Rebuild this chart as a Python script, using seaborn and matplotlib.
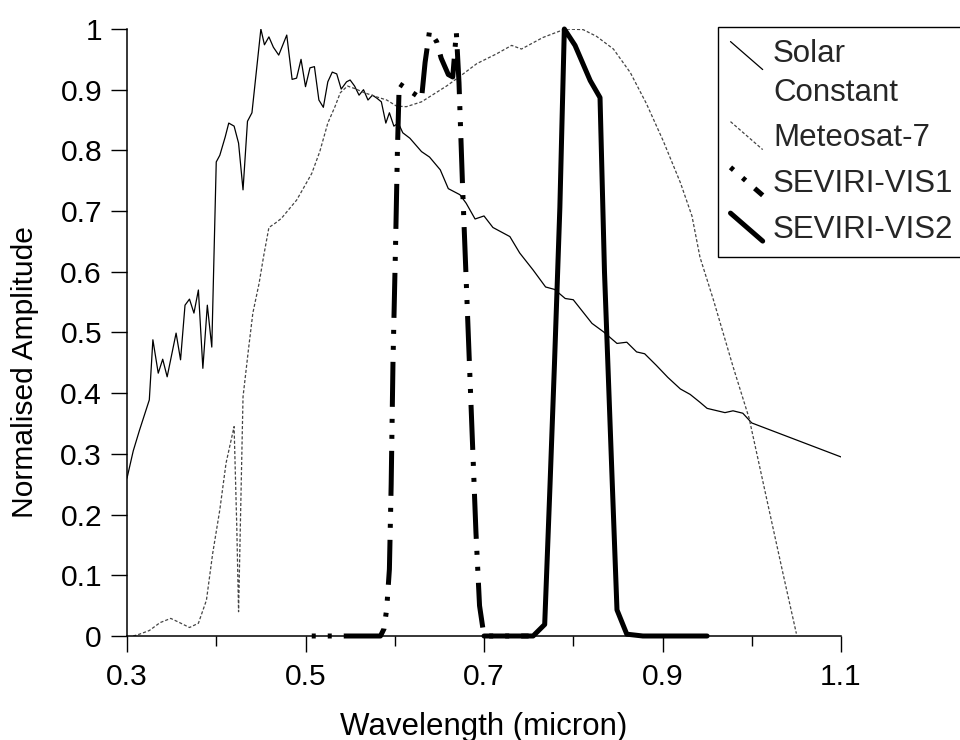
import matplotlib
matplotlib.use("Agg")
import matplotlib.pyplot as plt
import seaborn as sns
from matplotlib.lines import Line2D
from matplotlib.ticker import FixedLocator, MultipleLocator, FuncFormatter

# values
solar_wl = [0.300, 0.307, 0.314, 0.325, 0.329, 0.335, 0.340, 0.345, 0.355, 0.360, 0.365,
            0.370, 0.375, 0.380, 0.385, 0.390, 0.395, 0.400, 0.404, 0.410, 0.414, 0.420,
            0.425, 0.430, 0.435, 0.440, 0.450, 0.454, 0.459, 0.464, 0.470, 0.479, 0.485,
            0.490, 0.495, 0.500, 0.505, 0.510, 0.515, 0.520, 0.525, 0.530, 0.535, 0.540,
            0.546, 0.550, 0.555, 0.560, 0.565, 0.570, 0.575, 0.580, 0.585, 0.590, 0.594,
            0.599, 0.604, 0.609, 0.617, 0.630, 0.639, 0.651, 0.660, 0.673, 0.680, 0.690,
            0.700, 0.710, 0.729, 0.740, 0.755, 0.769, 0.779, 0.791, 0.800, 0.821, 0.834,
            0.849, 0.860, 0.871, 0.880, 0.893, 0.906, 0.920, 0.931, 0.942, 0.950, 0.970,
            0.979, 0.990, 1.000, 1.100]
solar_amp = [0.260, 0.305, 0.339, 0.389, 0.488, 0.433, 0.456, 0.427, 0.499, 0.455, 0.545,
             0.555, 0.532, 0.570, 0.441, 0.545, 0.476, 0.781, 0.792, 0.822, 0.845, 0.840,
             0.812, 0.735, 0.848, 0.862, 1.000, 0.974, 0.987, 0.970, 0.957, 0.990, 0.917,
             0.919, 0.950, 0.905, 0.936, 0.938, 0.883, 0.871, 0.913, 0.929, 0.926, 0.901,
             0.913, 0.916, 0.906, 0.891, 0.900, 0.883, 0.891, 0.886, 0.880, 0.845, 0.862,
             0.840, 0.845, 0.829, 0.820, 0.798, 0.789, 0.768, 0.737, 0.727, 0.713, 0.687,
             0.692, 0.673, 0.658, 0.631, 0.603, 0.575, 0.571, 0.556, 0.554, 0.515, 0.501,
             0.482, 0.484, 0.468, 0.465, 0.446, 0.426, 0.407, 0.398, 0.385, 0.375, 0.368,
             0.371, 0.367, 0.351, 0.295]

met_wl = [0.307, 0.314, 0.325, 0.337, 0.349, 0.359, 0.370, 0.380, 0.389, 0.396, 0.404,
          0.411, 0.420, 0.423, 0.425, 0.430, 0.436, 0.441, 0.448, 0.453, 0.459, 0.466,
          0.473, 0.482, 0.490, 0.497, 0.507, 0.516, 0.525, 0.533, 0.539, 0.547, 0.555,
          0.566, 0.580, 0.591, 0.602, 0.613, 0.630, 0.658, 0.673, 0.692, 0.714, 0.731,
          0.742, 0.766, 0.791, 0.811, 0.826, 0.845, 0.864, 0.882, 0.901, 0.920, 0.933,
          0.942, 0.957, 0.979, 0.997, 1.017, 1.035, 1.050]
met_amp = [0.000, 0.003, 0.009, 0.022, 0.029, 0.022, 0.014, 0.021, 0.059, 0.136, 0.208,
           0.285, 0.345, 0.180, 0.040, 0.394, 0.471, 0.532, 0.581, 0.625, 0.673, 0.680,
           0.688, 0.704, 0.718, 0.736, 0.762, 0.798, 0.845, 0.872, 0.895, 0.906, 0.902,
           0.895, 0.888, 0.883, 0.873, 0.872, 0.880, 0.906, 0.922, 0.943, 0.959, 0.973,
           0.967, 0.986, 1.000, 0.999, 0.988, 0.967, 0.928, 0.877, 0.815, 0.747, 0.692,
           0.624, 0.554, 0.444, 0.359, 0.224, 0.103, 0.004]

vis1_wl = [0.507, 0.584, 0.588, 0.591, 0.594, 0.596, 0.598, 0.601, 0.603, 0.605, 0.615,
           0.630, 0.634, 0.639, 0.647, 0.652, 0.660, 0.665, 0.669, 0.672, 0.676, 0.681,
           0.686, 0.691, 0.695, 0.699, 0.703, 0.750]
vis1_amp = [0.000, 0.000, 0.012, 0.045, 0.110, 0.250, 0.450, 0.650, 0.800, 0.910, 0.900,
            0.885, 0.945, 0.997, 0.979, 0.952, 0.925, 0.921, 0.995, 0.911, 0.740, 0.550,
            0.360, 0.170, 0.050, 0.010, 0.000, 0.000]

vis2_wl = [0.700, 0.755, 0.768, 0.774, 0.779, 0.785, 0.790, 0.802, 0.819, 0.830, 0.835,
           0.843, 0.849, 0.860, 0.878, 0.950]
vis2_amp = [0.000, 0.000, 0.019, 0.250, 0.450, 0.706, 1.000, 0.973, 0.915, 0.887, 0.600,
            0.280, 0.043, 0.003, 0.000, 0.000]

labels = ["Solar\nConstant", "Meteosat-7", "SEVIRI-VIS1", "SEVIRI-VIS2"]
x_major = [0.3, 0.5, 0.7, 0.9, 1.1]
x_minor = [0.4, 0.6, 0.8, 1.0]

sns.set_theme(style="ticks")
plt.rcParams['font.family'] = ['Liberation Sans', 'DejaVu Sans']
fs_tick = 21.6
fs_lab = 22.5

# dash-dot-dot, starting on the dots
vis1_ls = (11.4, (9, 2.4, 0.8, 2.4, 0.8, 2.4))

fig = plt.figure(figsize=(9.6, 7.4), dpi=100)
ax = fig.add_axes([127 / 960, 1 - 636 / 740, (841 - 127) / 960, (636 - 29) / 740])

sns.lineplot(x=solar_wl, y=solar_amp, ax=ax, color="black", lw=0.9,
             sort=False, estimator=None)
sns.lineplot(x=met_wl, y=met_amp, ax=ax, color="#444444", lw=0.9,
             ls=(0, (2.5, 1.6)), sort=False, estimator=None)
sns.lineplot(x=vis1_wl, y=vis1_amp, ax=ax, color="black", lw=3.6,
             ls=vis1_ls, sort=False, estimator=None, clip_on=False)
sns.lineplot(x=vis2_wl, y=vis2_amp, ax=ax, color="black", lw=3.6,
             sort=False, estimator=None, clip_on=False)

ax.set_xlim(0.3, 1.1)
ax.set_ylim(0, 1)
ax.xaxis.set_major_locator(FixedLocator(x_major))
ax.xaxis.set_minor_locator(FixedLocator(x_minor))
ax.yaxis.set_major_locator(MultipleLocator(0.1))
ax.xaxis.set_major_formatter(FuncFormatter(lambda v, p: f"{v:.1f}"))
ax.yaxis.set_major_formatter(FuncFormatter(lambda v, p: f"{round(v, 1):g}"))

sns.despine(ax=ax)
for s in ["left", "bottom"]:
    ax.spines[s].set_linewidth(1.1)
    ax.spines[s].set_color("black")
ax.tick_params(axis="both", which="major", direction="out", length=11.5, width=1.0,
               color="black", labelsize=fs_tick, labelcolor="black")
ax.tick_params(axis="y", pad=6.5)
ax.tick_params(axis="x", pad=8)
ax.tick_params(axis="x", which="minor", direction="out", length=7, width=1.0, color="black")

ax.set_xlabel("Wavelength (micron)", fontsize=fs_lab, color="black", labelpad=15)
ax.set_ylabel("Normalised Amplitude", fontsize=fs_tick, color="black")
ax.yaxis.set_label_coords(-0.123, 0.435)


class DiagonalHandler:
    def __init__(self, shift=0.0, ls=None):
        self.shift = shift
        self.ls = ls

    def legend_artist(self, legend, orig_handle, fontsize, handlebox):
        x0, y0 = handlebox.xdescent, -handlebox.ydescent
        w, h = handlebox.width, handlebox.height
        line = Line2D([x0, x0 + w], [y0 + h + self.shift, y0 + self.shift])
        line.update_from(orig_handle)
        if self.ls is not None:
            line.set_linestyle(self.ls)
        line.set_clip_on(False)
        line.set_transform(handlebox.get_transform())
        handlebox.add_artist(line)
        return line


handles = list(ax.lines[:4])
hmap = {handles[0]: DiagonalHandler(shift=fs_lab * 0.6),
        handles[1]: DiagonalHandler(),
        handles[2]: DiagonalHandler(ls=vis1_ls),
        handles[3]: DiagonalHandler()}

leg = fig.legend(handles, labels, loc="upper left",
                 bbox_to_anchor=(718 / 960, 1 - 27 / 740), bbox_transform=fig.transFigure,
                 borderaxespad=0, fontsize=fs_lab, handler_map=hmap, handlelength=1.03,
                 handleheight=1.0, handletextpad=0.33, borderpad=0.4, labelspacing=0.45,
                 fancybox=False, framealpha=1, edgecolor="black")
leg.get_frame().set_linewidth(1.0)
leg.get_texts()[0].set_linespacing(1.35)

fig.savefig("out.png", dpi=100)
